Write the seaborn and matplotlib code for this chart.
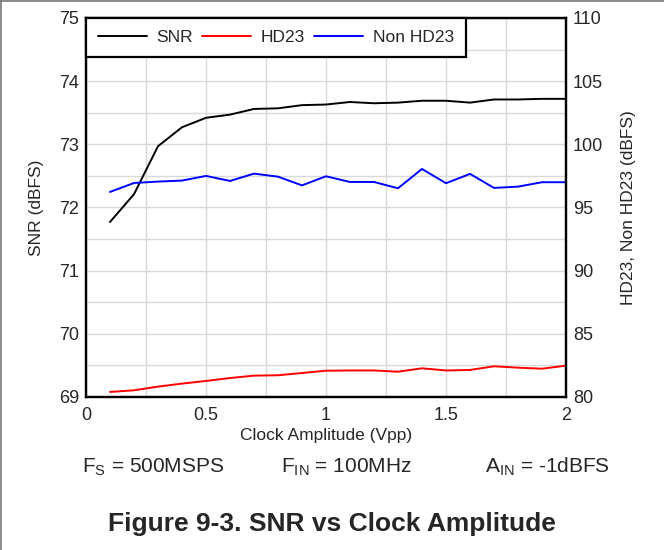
import matplotlib
matplotlib.use("Agg")
import matplotlib.pyplot as plt
import matplotlib.ticker as ticker
import pandas as pd
import seaborn as sns
from matplotlib.lines import Line2D

# clock amplitude sweep (Vpp)
clock_vpp = [0.1, 0.2, 0.3, 0.4, 0.5, 0.6, 0.7, 0.8, 0.9, 1.0,
             1.1, 1.2, 1.3, 1.4, 1.5, 1.6, 1.7, 1.8, 1.9, 2.0]
snr = [71.77, 72.21, 72.97, 73.27, 73.42, 73.47, 73.56, 73.57, 73.62, 73.63,
       73.67, 73.65, 73.66, 73.69, 73.69, 73.66, 73.71, 73.71, 73.72, 73.72]
hd23 = [80.40, 80.53, 80.82, 81.06, 81.27, 81.50, 81.69, 81.72, 81.90, 82.08,
        82.10, 82.10, 82.00, 82.27, 82.10, 82.14, 82.43, 82.32, 82.24, 82.48]
non_hd23 = [96.23, 96.94, 97.05, 97.13, 97.50, 97.10, 97.68, 97.44, 96.75, 97.47,
            97.02, 97.02, 96.52, 98.05, 96.92, 97.66, 96.55, 96.65, 97.00, 97.00]

x_ticks = [0, 0.5, 1, 1.5, 2]
x_tick_labels = ["0", "0.5", "1", "1.5", "2"]

df = pd.DataFrame({"clock": clock_vpp, "snr": snr, "hd23": hd23, "non_hd23": non_hd23})

sns.set_style("white")
plt.rcParams["font.family"] = ["Liberation Sans", "DejaVu Sans"]

fig = plt.figure(figsize=(6.64, 5.5), dpi=100)
ax = fig.add_axes([0.1295, 0.2782, 0.7229, 0.6891])
ax2 = ax.twinx()

# left axis: SNR
sns.lineplot(x="clock", y="snr", data=df, ax=ax, color="black", lw=1.4)
ax.set_xlim(0, 2)
ax.set_ylim(69, 75)
ax.xaxis.set_major_locator(ticker.FixedLocator(x_ticks))
ax.set_xticklabels(x_tick_labels)
ax.xaxis.set_minor_locator(ticker.MultipleLocator(0.25))
ax.yaxis.set_major_locator(ticker.MultipleLocator(1))
ax.yaxis.set_minor_locator(ticker.MultipleLocator(0.5))
ax.grid(which="both", color="#d9d9d9", lw=1.0)
ax.set_axisbelow(True)
ax.set_xlabel("Clock Amplitude (Vpp)", fontsize=12.5, labelpad=3)
ax.set_ylabel("SNR (dBFS)", fontsize=12.5, labelpad=11)
ax.tick_params(which="both", length=0, labelsize=13, pad=5)
ax.tick_params(axis="x", pad=7)

# right axis: HD23 and non-HD23
sns.lineplot(x="clock", y="hd23", data=df, ax=ax2, color="#ff0000", lw=1.4)
sns.lineplot(x="clock", y="non_hd23", data=df, ax=ax2, color="#0000ff", lw=1.4)
ax2.set_ylim(80, 110)
ax2.yaxis.set_major_locator(ticker.MultipleLocator(5))
ax2.set_ylabel("HD23, Non HD23 (dBFS)", fontsize=12.5, labelpad=13)
ax2.tick_params(length=0, labelsize=13, pad=5)
ax2.grid(False)

for a in (ax, ax2):
    for s in a.spines.values():
        s.set_color("black")
        s.set_linewidth(1.6)

handles = [Line2D([], [], color="black", lw=1.4),
           Line2D([], [], color="#ff0000", lw=1.4),
           Line2D([], [], color="#0000ff", lw=1.4)]
leg = ax2.legend(handles, ["SNR", "HD23", "Non HD23"], loc="upper left",
                 ncol=3, fontsize=12.5, frameon=True, fancybox=False,
                 borderaxespad=0, handlelength=2.8, handletextpad=0.55,
                 columnspacing=0.55, borderpad=0.7)
leg.get_frame().set_edgecolor("black")
leg.get_frame().set_linewidth(1.6)
leg.get_frame().set_alpha(1)

# test conditions
fig.text(82 / 664, 1 - 467 / 550, r"F$_\mathregular{S}$ = 500MSPS", fontsize=15, va="center")
fig.text(281 / 664, 1 - 467 / 550, r"F$_\mathregular{IN}$ = 100MHz", fontsize=15, va="center")
fig.text(485 / 664, 1 - 467 / 550, r"A$_\mathregular{IN}$ = -1dBFS", fontsize=15, va="center")

fig.text(332 / 664, 1 - 524 / 550, "Figure 9-3. SNR vs Clock Amplitude",
         fontsize=19, fontweight="bold", ha="center", va="center")

# page border lines (top and left)
fig.add_artist(Line2D([0, 1], [0.999, 0.999], color="#777777", lw=1.2, transform=fig.transFigure))
fig.add_artist(Line2D([0.001, 0.001], [0, 1], color="#777777", lw=1.2, transform=fig.transFigure))

fig.savefig("out.png", dpi=100)
